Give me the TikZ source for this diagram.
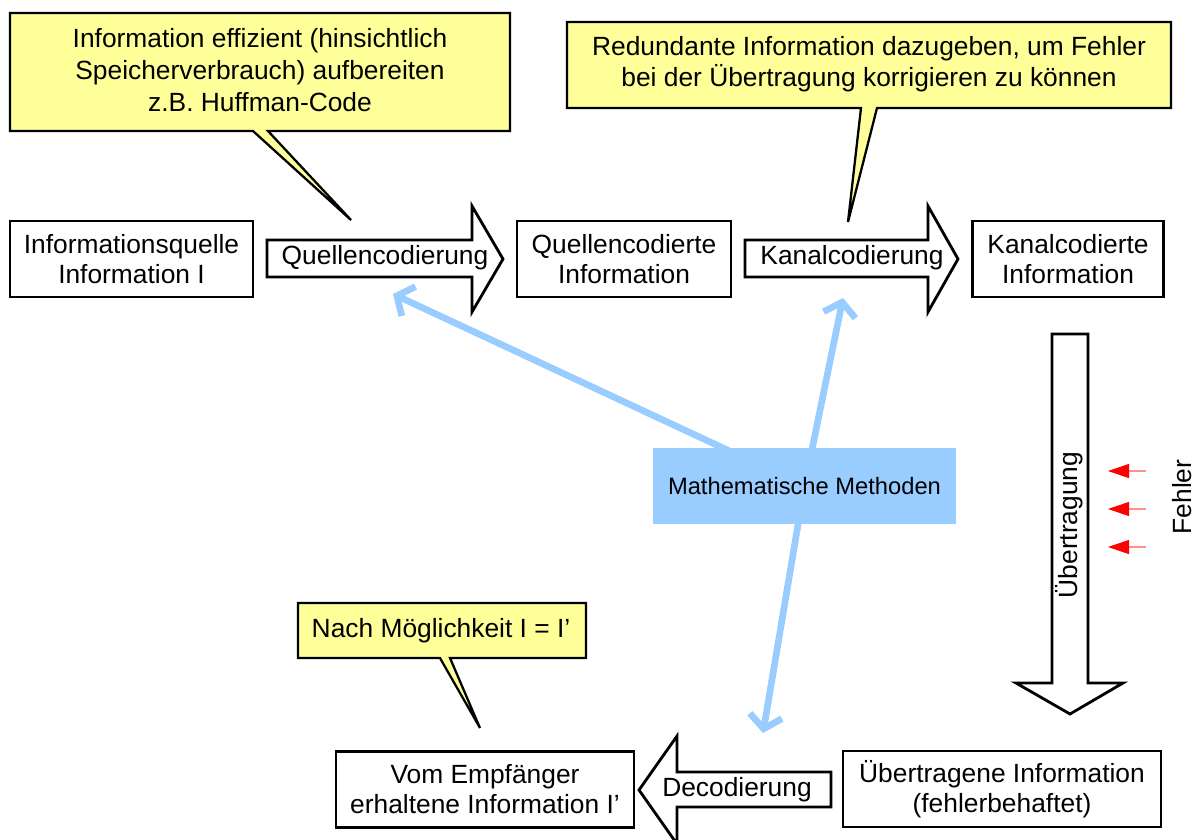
\documentclass[tikz,border=0pt]{standalone}
\usepackage{fontspec}
\setmainfont{Liberation Sans}
\usetikzlibrary{arrows.meta}
\definecolor{callY}{HTML}{FFFF99}
\definecolor{mathB}{HTML}{99CCFF}
\definecolor{errR}{HTML}{FF0000}
\definecolor{errL}{HTML}{FF9090}
\begin{document}
\begin{tikzpicture}[x=0.02cm, y=-0.02cm,
  box/.style={draw, line width=1.6pt, fill=white, align=center, inner sep=0pt,
    minimum height=1.52cm, font=\fontsize{15pt}{17pt}\selectfont},
  blk/.style={draw, line width=1.6pt, fill=white, line join=miter},
  callout/.style={draw, line width=1.3pt, fill=callY, line join=miter},
  ctext/.style={align=center, inner sep=0pt, font=\fontsize{15pt}{18pt}\selectfont},
  atext/.style={inner sep=0pt, font=\fontsize{15pt}{17pt}\selectfont},
  mlink/.style={draw=mathB, line width=3.8pt, -{Straight Barb[length=2.6mm,width=6.5mm]}},
  err/.style={draw=errL, line width=0.6pt, -{Triangle[length=4.2mm,width=2.8mm,color=errR]}}
]
\useasboundingbox (0,0) rectangle (1197,839);

% callouts
\draw[callout] (10,13) -- (510,13) -- (510,131) -- (268,131) -- (351,220) -- (253,131) -- (10,131) -- cycle;
\node[ctext] (c1) at (260,70) {Information effizient (hinsichtlich\\Speicherverbrauch) aufbereiten\\z.B. Huffman-Code};

\draw[callout] (567,22) -- (1171,22) -- (1171,108) -- (877,108) -- (848,222) -- (861,108) -- (567,108) -- cycle;
\node[ctext] (c2) at (869,64) {Redundante Information dazugeben, um Fehler\\bei der Übertragung korrigieren zu können};

\draw[callout] (298,603) -- (586,603) -- (586,658) -- (450,658) -- (480,728) -- (440,658) -- (298,658) -- cycle;
\node[ctext] (c3) at (441,631) {Nach Möglichkeit I = I’};

% boxes
\node[box, minimum width=4.86cm] (src) at (131.5,259) {Informationsquelle\\Information I};
\node[box, minimum width=4.28cm] (qci) at (624,259) {Quellencodierte\\Information};
\node[box, minimum width=3.82cm] (kci) at (1068,259) {Kanalcodierte\\Information};
\node[box, minimum width=6.36cm] (ueb) at (1002,789) {Übertragene Information\\(fehlerbehaftet)};
\node[box, minimum width=5.96cm] (emp) at (485,789.5) {Vom Empfänger\\erhaltene Information I’};

% block arrows
\draw[blk] (267,240) -- (472,240) -- (472,206) -- (503,259) -- (472,312) -- (472,277) -- (267,277) -- cycle;
\node[atext] (qc) at (385,258) {Quellencodierung};
\draw[blk] (745,240) -- (928,240) -- (928,206) -- (958,259) -- (928,312) -- (928,277) -- (745,277) -- cycle;
\node[atext] (kc) at (852,258) {Kanalcodierung};
\draw[blk] (1052,334) -- (1088,334) -- (1088,683) -- (1123,683) -- (1070,714) -- (1016,683) -- (1052,683) -- cycle;
\node[atext, rotate=90] (ue) at (1069,525) {Übertragung};
\draw[blk] (831,772) -- (677,772) -- (677,736) -- (639,790) -- (677,844) -- (677,807) -- (831,807) -- cycle;
\node[atext] (dc) at (737,790) {Decodierung};

% errors
\coordinate (e1s) at (1146,471); \coordinate (e1t) at (1108,471);
\coordinate (e2s) at (1146,509); \coordinate (e2t) at (1108,509);
\coordinate (e3s) at (1146,547); \coordinate (e3t) at (1108,547);
\draw[err] (e1s) -- (e1t);
\draw[err] (e2s) -- (e2t);
\draw[err] (e3s) -- (e3t);
\node[atext, rotate=90] (fe) at (1182,497) {Fehler};

% mathematical methods
\coordinate (mmc) at (804.5,486);
\coordinate (t1) at (393,294);
\coordinate (t2) at (843,298);
\coordinate (t3) at (763,733);
\draw[mlink] (mmc) -- (t1);
\draw[mlink] (mmc) -- (t2);
\draw[mlink] (mmc) -- (t3);
\node[fill=mathB, minimum width=6.06cm, minimum height=1.52cm, inner sep=0pt,
  font=\fontsize{13.5pt}{16pt}\selectfont] (mm) at (mmc) {Mathematische Methoden};
\end{tikzpicture}
\end{document}
